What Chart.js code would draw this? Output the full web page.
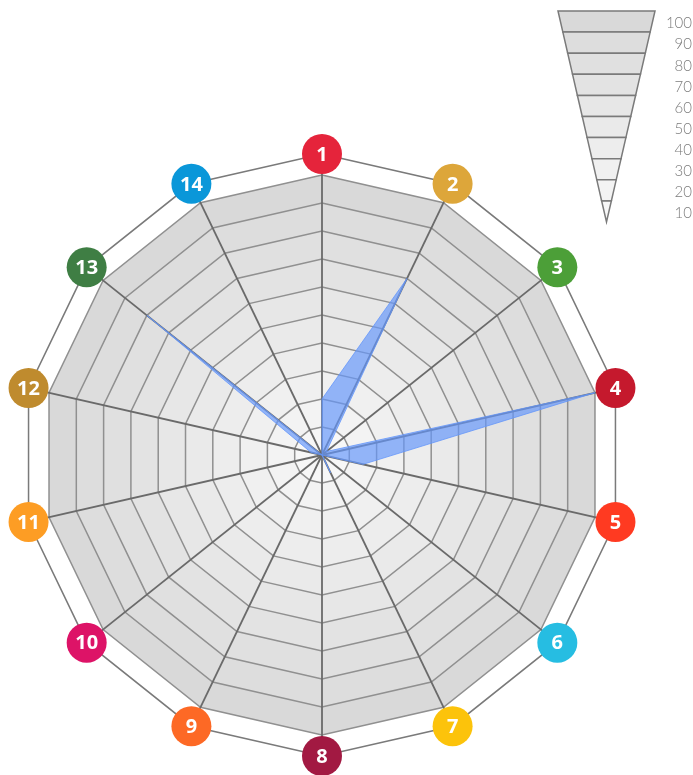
<!DOCTYPE html>
<html>
<head>
<meta charset="utf-8">
<script src="https://cdn.jsdelivr.net/npm/chart.js@4.4.1/dist/chart.umd.min.js"></script>
<style>
  html, body { margin: 0; padding: 0; background: #fff; }
  #wrap { width: 693px; height: 775px; position: relative; }
</style>
</head>
<body>
<div id="wrap"><canvas id="radarChart"></canvas></div>
<script>
// Cele (osie wykresu)
const goals = ['1', '2', '3', '4', '5', '6', '7', '8', '9', '10', '11', '12', '13', '14'];
const goalColors = ['#e5243b', '#dda63a', '#4c9f38', '#c5192d', '#ff3a21', '#26bde2', '#fcc30b',
                    '#a21942', '#fd6925', '#dd1367', '#fd9d24', '#bf8b2e', '#3f7e44', '#0a97d9'];
const scores = [20, 70, 2, 100, 15, 0, 7, 0, 0, 0, 0, 4, 80, 0];

// Poziomy siatki (od zewnątrz do środka) i ich kolory
const levels = [100, 90, 80, 70, 60, 50, 40, 30, 20, 10];
const bandColors = ['#d9d9d9', '#dddddd', '#e0e0e0', '#e3e3e3', '#e7e7e7',
                    '#eaeaea', '#ededed', '#f0f0f0', '#f3f3f3', '#f7f7f7'];
const ringValue = 107.5;
const tickValues = [0, 10, 20, 30, 40, 50, 60, 70, 80, 90, 100, ringValue];

// Szare pasy pod siatką
const gridBands = {
  id: 'gridBands',
  beforeDraw(chart) {
    const r = chart.scales.r;
    const ctx = chart.ctx;
    ctx.save();
    levels.forEach((lvl, i) => {
      const dist = r.getDistanceFromCenterForValue(lvl);
      ctx.beginPath();
      goals.forEach((g, j) => {
        const p = r.getPointPosition(j, dist);
        if (j === 0) ctx.moveTo(p.x, p.y); else ctx.lineTo(p.x, p.y);
      });
      ctx.closePath();
      ctx.fillStyle = bandColors[i];
      ctx.fill();
    });
    ctx.restore();
  }
};

// Kółka z numerami celów
const goalBadges = {
  id: 'goalBadges',
  afterDraw(chart) {
    const r = chart.scales.r;
    const ctx = chart.ctx;
    const dist = r.getDistanceFromCenterForValue(ringValue);
    ctx.save();
    goals.forEach((g, i) => {
      const p = r.getPointPosition(i, dist);
      ctx.beginPath();
      ctx.arc(p.x, p.y, 20, 0, Math.PI * 2);
      ctx.fillStyle = goalColors[i];
      ctx.fill();
      ctx.fillStyle = '#fff';
      ctx.font = 'bold 20px "Open Sans"';
      ctx.textAlign = 'center';
      ctx.textBaseline = 'middle';
      ctx.fillText(g, p.x, p.y + 1);
    });
    ctx.restore();
  }
};

// Legenda - odwrócony trójkąt w prawym górnym rogu
const levelLegend = {
  id: 'levelLegend',
  afterDraw(chart) {
    const ctx = chart.ctx;
    const top = 11, apex = 222, cx = 606.5, halfTop = 48.5;
    const bandH = (apex - top) / levels.length;
    const half = y => halfTop * (apex - y) / (apex - top);
    ctx.save();
    ctx.strokeStyle = '#7a7a7a';
    ctx.lineWidth = 1.5;
    levels.forEach((lvl, i) => {
      const y0 = top + i * bandH, y1 = y0 + bandH;
      ctx.beginPath();
      ctx.moveTo(cx - half(y0), y0);
      ctx.lineTo(cx + half(y0), y0);
      ctx.lineTo(cx + half(y1), y1);
      ctx.lineTo(cx - half(y1), y1);
      ctx.closePath();
      ctx.fillStyle = bandColors[i];
      ctx.fill();
      ctx.stroke();
      ctx.fillStyle = '#7c7c7c';
      ctx.font = '300 15px Lato';
      ctx.textAlign = 'right';
      ctx.textBaseline = 'middle';
      ctx.fillText(String(lvl), 692, y0 + bandH / 2 + 2);
    });
    ctx.restore();
  }
};

const ctx = document.getElementById('radarChart').getContext('2d');
const radarChart = new Chart(ctx, {
  type: 'radar',
  data: {
    labels: goals,
    datasets: [{
      data: scores,
      backgroundColor: 'rgba(100, 150, 250, 0.68)',
      borderColor: 'rgba(100, 150, 250, 0.8)',
      borderWidth: 1,
      pointRadius: 0,
      fill: 'origin'
    }]
  },
  options: {
    responsive: true,
    maintainAspectRatio: false,
    animation: false,
    devicePixelRatio: 1,
    layout: { padding: { left: 21, top: 154, right: 70, bottom: 19 } },
    plugins: { legend: { display: false }, tooltip: { enabled: false } },
    elements: { line: { tension: 0 } },
    scales: {
      r: {
        min: 0,
        max: ringValue,
        afterBuildTicks: scale => { scale.ticks = tickValues.map(v => ({ value: v })); },
        ticks: { display: false },
        pointLabels: { display: false },
        grid: {
          color: c => (c.tick && c.tick.value > 100 ? '#7a7a7a' : '#909090'),
          lineWidth: 1.5
        },
        angleLines: { color: '#6a6a6a', lineWidth: 1.8 }
      }
    }
  },
  plugins: [gridBands, goalBadges, levelLegend]
});
</script>
</body>
</html>
